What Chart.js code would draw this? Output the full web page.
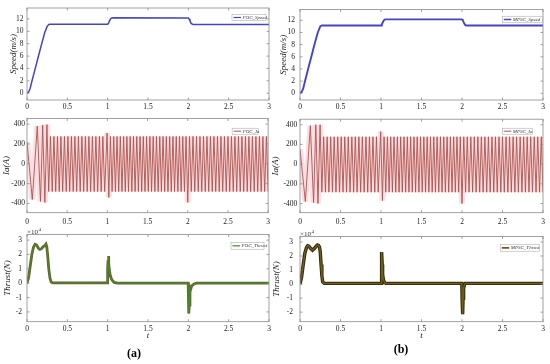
<!DOCTYPE html>
<html>
<head>
    <title>FOC vs MPSC - Speed, Ia and Thrust</title>
    <style>
        body {
            margin: 0;
            background-color: #fff;
        }

        #fig {
            position: relative;
            width: 550px;
            height: 364px;
            overflow: hidden;
            font-family: "Liberation Serif", serif;
        }

        canvas {
            position: absolute;
        }

        .cap {
            position: absolute;
            font-weight: bold;
            font-size: 12px;
            transform: translate(-50%, -50%);
        }
    </style>
</head>
<body>
    <div id="fig">
        <canvas id="spA" width="275" height="112" style="left:0;top:0"></canvas>
        <canvas id="iaA" width="275" height="114" style="left:0;top:112px"></canvas>
        <canvas id="thA" width="275" height="117" style="left:0;top:225px"></canvas>
        <canvas id="spB" width="282" height="112" style="left:268px;top:0"></canvas>
        <canvas id="iaB" width="282" height="114" style="left:268px;top:112px"></canvas>
        <canvas id="thB" width="282" height="117" style="left:268px;top:225px"></canvas>
        <div class="cap" style="left:134px;top:353px">(a)</div>
        <div class="cap" style="left:401px;top:349px">(b)</div>
    </div>

    <script src="https://cdn.jsdelivr.net/npm/chart.js"></script>
    <script>
        // time axis ticks (s)
        const tTicks = [0, 0.5, 1, 1.5, 2, 2.5, 3];
        const speedTicks = [0, 2, 4, 6, 8, 10, 12];
        const iaTicks = [-400, -200, 0, 200, 400];
        const thrustTicks = [-2, -1, 0, 1, 2, 3];

        // speed (m/s)
        const spdTime = [0, 0.02, 0.04, 0.06, 0.1, 0.14, 0.18, 0.22, 0.25, 0.27, 0.29, 1.0, 1.01, 1.02, 1.035, 1.05, 1.07, 2.0, 2.01, 2.02, 2.035, 2.05, 2.07, 3.0];
        const spdFOC = [0, 0.2, 0.8, 1.9, 3.9, 5.9, 7.9, 9.8, 10.8, 11.1, 11.15, 11.15, 11.3, 11.6, 12.0, 12.15, 12.2, 12.15, 12.0, 11.7, 11.3, 11.15, 11.1, 11.1];
        const spdMPSC = [0, 0.2, 0.8, 1.9, 4.0, 6.0, 8.1, 10.0, 11.0, 11.15, 11.15, 11.15, 11.3, 11.6, 12.0, 12.15, 12.15, 12.15, 12.0, 11.7, 11.3, 11.15, 11.15, 11.15];

        // phase current Ia (A): peaks and troughs of the waveform
        const iaTime = [
            0, 0.066, 0.128, 0.168, 0.195, 0.222, 0.248,
            0.270, 0.292, 0.314, 0.335, 0.357, 0.379, 0.401, 0.422, 0.444, 0.466, 0.488, 0.509, 0.531, 0.553, 0.575, 0.596, 0.618,
            0.640, 0.662, 0.683, 0.705, 0.727, 0.749, 0.770, 0.792, 0.814, 0.836, 0.857, 0.879, 0.901, 0.923, 0.944, 0.966,
            0.996, 1.018,
            1.038, 1.059, 1.079, 1.100, 1.120, 1.141, 1.161, 1.182, 1.202, 1.223, 1.243, 1.263, 1.284, 1.304, 1.325, 1.345,
            1.366, 1.386, 1.407, 1.427, 1.447, 1.468, 1.488, 1.509, 1.529, 1.550, 1.570, 1.591, 1.611, 1.632, 1.652, 1.672,
            1.693, 1.713, 1.734, 1.754, 1.775, 1.795, 1.816, 1.836, 1.857, 1.877, 1.897, 1.918, 1.938, 1.959, 1.979, 2.000,
            2.022, 2.044, 2.065, 2.087, 2.109, 2.131, 2.152, 2.174, 2.196, 2.218, 2.239, 2.261, 2.283, 2.305, 2.326, 2.348,
            2.370, 2.392, 2.413, 2.435, 2.457, 2.479, 2.500, 2.522, 2.544, 2.566, 2.587, 2.609, 2.631, 2.653, 2.674, 2.696,
            2.718, 2.740, 2.761, 2.783, 2.805, 2.827, 2.848, 2.870, 2.892, 2.914, 2.935, 2.957, 2.979, 3.000
        ];
        const iaFOC = [
            220, -360, 380, -380, 390, -390, 395,
            -280, 275, -280, 275, -280, 275, -280, 275, -280, 275, -280, 275, -280, 275, -280, 275, -280,
            275, -280, 275, -280, 275, -280, 275, -280, 275, -280, 275, -280, 275, -280, 275, -280,
            310, -340,
            275, -280, 275, -280, 275, -280, 275, -280, 275, -280, 275, -280, 275, -280, 275, -280,
            275, -280, 275, -280, 275, -280, 275, -280, 275, -280, 275, -280, 275, -280, 275, -280,
            275, -280, 275, -280, 275, -280, 275, -280, 275, -280, 275, -280, 275, -280, 275, -390,
            275, -280, 275, -280, 275, -280, 275, -280, 275, -280, 275, -280, 275, -280, 275, -280,
            275, -280, 275, -280, 275, -280, 275, -280, 275, -280, 275, -280, 275, -280, 275, -280,
            275, -280, 275, -280, 275, -280, 275, -280, 275, -280, 275, -280, 275, -280
        ];
        const iaMPSC = [
            150, -380, 390, -390, 400, -400, 400,
            -285, 278, -285, 278, -285, 278, -285, 278, -285, 278, -285, 278, -285, 278, -285, 278, -285,
            278, -285, 278, -285, 278, -285, 278, -285, 278, -285, 278, -285, 278, -285, 278, -285,
            330, -370,
            278, -285, 278, -285, 278, -285, 278, -285, 278, -285, 278, -285, 278, -285, 278, -285,
            278, -285, 278, -285, 278, -285, 278, -285, 278, -285, 278, -285, 278, -285, 278, -285,
            278, -285, 278, -285, 278, -285, 278, -285, 278, -285, 278, -285, 278, -285, 278, -400,
            278, -285, 278, -285, 278, -285, 278, -285, 278, -285, 278, -285, 278, -285, 278, -285,
            278, -285, 278, -285, 278, -285, 278, -285, 278, -285, 278, -285, 278, -285, 278, -285,
            278, -285, 278, -285, 278, -285, 278, -285, 278, -285, 278, -285, 278, -285
        ];

        // thrust (x10^4 N)
        const thrFOCTime = [0, 0.02, 0.04, 0.06, 0.08, 0.1, 0.12, 0.14, 0.16, 0.18, 0.2, 0.22, 0.235, 0.245, 0.255, 0.27, 0.285, 0.3, 0.32, 0.995,
            1.0, 1.005, 1.01, 1.015, 1.02, 1.03, 1.05, 1.08, 1.12, 1.998, 2.003, 2.008, 2.012, 2.02, 2.04, 2.07, 2.1, 3.0];
        const thrFOC = [0, 0.4, 1.2, 2.0, 2.5, 2.7, 2.65, 2.45, 2.35, 2.4, 2.55, 2.6, 2.72, 2.55, 2.0, 1.0, 0.35, 0.08, 0.02, 0.02,
            1.0, 1.6, 1.9, 1.3, 1.0, 0.6, 0.25, 0.05, 0.0, 0.0, -1.0, -2.1, -1.5, -0.6, -0.2, -0.05, 0.0, 0.0];
        const thrMPSCTime = [0, 0.02, 0.04, 0.06, 0.08, 0.095, 0.11, 0.13, 0.155, 0.18, 0.2, 0.215, 0.228, 0.24, 0.25, 0.26, 0.27, 0.28, 0.3, 1.0,
            1.005, 1.01, 1.015, 1.02, 1.03, 1.045, 1.06, 1.998, 2.002, 2.008, 2.013, 2.02, 2.03, 2.04, 3.0];
        const thrMPSC = [0, 0.5, 1.4, 2.2, 2.6, 2.73, 2.7, 2.55, 2.42, 2.55, 2.7, 2.78, 2.75, 2.65, 2.3, 1.4, 0.6, 0.15, 0.05, 0.05,
            1.2, 2.28, 1.4, 0.7, 0.3, 0.1, 0.05, 0.05, -1.2, -2.15, -1.0, -0.3, -0.05, 0.05, 0.05];

        const serif = '"Liberation Serif", "Times New Roman", serif';
        const tickFont = { family: serif, size: 7.5 };

        function pts(ts, vs) {
            return ts.map((t, i) => ({ x: t, y: vs[i] }));
        }

        // box, inward ticks, small legend and exponent label
        Chart.register({
            id: 'fig',
            afterDraw(chart, args, opt) {
                const { ctx, chartArea: a, scales } = chart;
                ctx.save();
                ctx.strokeStyle = '#8a8a8a';
                ctx.lineWidth = 0.8;
                ctx.strokeRect(a.left, a.top, a.right - a.left, a.bottom - a.top);
                ctx.beginPath();
                scales.x.ticks.forEach(t => {
                    const p = scales.x.getPixelForValue(t.value);
                    ctx.moveTo(p, a.bottom); ctx.lineTo(p, a.bottom - 2.5);
                    ctx.moveTo(p, a.top); ctx.lineTo(p, a.top + 2.5);
                });
                scales.y.ticks.forEach(t => {
                    const p = scales.y.getPixelForValue(t.value);
                    ctx.moveTo(a.left, p); ctx.lineTo(a.left + 2.5, p);
                    ctx.moveTo(a.right, p); ctx.lineTo(a.right - 2.5, p);
                });
                ctx.stroke();

                const L = opt.box;
                if (L) {
                    const bx = a.right - L.right - L.w, by = a.top + L.top;
                    ctx.fillStyle = '#fff';
                    ctx.fillRect(bx, by, L.w, L.h);
                    ctx.strokeStyle = '#a0a0a0';
                    ctx.lineWidth = 0.5;
                    ctx.strokeRect(bx, by, L.w, L.h);
                    const ds = chart.data.datasets[0];
                    ctx.strokeStyle = ds.borderColor;
                    ctx.lineWidth = L.lw;
                    ctx.beginPath();
                    ctx.moveTo(bx + 1.5, by + L.h / 2);
                    ctx.lineTo(bx + 9, by + L.h / 2);
                    ctx.stroke();
                    ctx.fillStyle = '#333';
                    ctx.font = 'italic 5px ' + serif;
                    ctx.textBaseline = 'middle';
                    ctx.fillText(ds.label, bx + 10.5, by + L.h / 2 + 0.3);
                }
                if (opt.expo) {
                    ctx.fillStyle = '#333';
                    ctx.textBaseline = 'alphabetic';
                    ctx.font = '7px ' + serif;
                    ctx.fillText('×10', a.left, a.top - 1);
                    const w = ctx.measureText('×10').width;
                    ctx.font = '5px ' + serif;
                    ctx.fillText('4', a.left + w + 0.5, a.top - 4);
                }
                ctx.restore();
            }
        });

        function panel(id, o) {
            new Chart(document.getElementById(id), {
                type: 'line',
                data: { datasets: o.sets },
                options: {
                    responsive: false,
                    animation: false,
                    layout: { padding: { top: o.padTop, right: o.padRight, left: 0, bottom: 0 } },
                    elements: { point: { radius: 0 }, line: { tension: 0 } },
                    plugins: {
                        legend: { display: false },
                        tooltip: { enabled: false },
                        fig: { box: o.box, expo: o.expo }
                    },
                    scales: {
                        x: {
                            type: 'linear', min: 0, max: 3,
                            afterFit: s => { s.height = o.xH; },
                            afterBuildTicks: s => { s.ticks = tTicks.map(v => ({ value: v })); },
                            grid: { display: false, drawTicks: false },
                            border: { display: false },
                            ticks: { padding: o.xPad, font: tickFont, color: '#222', maxRotation: 0, callback: v => String(v) },
                            title: {
                                display: !!o.xTitle, text: 't',
                                font: { family: serif, size: 9, style: 'italic' },
                                color: '#222', padding: { top: 0, bottom: 0.5 }
                            }
                        },
                        y: {
                            type: 'linear', min: o.yMin, max: o.yMax,
                            afterFit: s => { s.width = o.yW; },
                            afterBuildTicks: s => { s.ticks = o.yTicks.map(v => ({ value: v })); },
                            grid: { display: false, drawTicks: false },
                            border: { display: false },
                            ticks: { padding: o.yPad, font: tickFont, color: '#222', callback: v => String(v) },
                            title: {
                                display: true, text: o.yTitle,
                                font: { family: serif, size: 9, style: 'italic' },
                                color: '#222', padding: { top: o.titlePad, bottom: 0 }
                            }
                        }
                    }
                }
            });
        }

        const speedSet = (label, vs, w) => [{
            label, data: pts(spdTime, vs), borderColor: '#4444c8', borderWidth: w
        }];
        const iaSet = (label, vs) => [
            { label, data: pts(iaTime, vs), borderColor: '#b0524a', borderWidth: 0.9 },
            { label: '', data: pts(iaTime, vs), borderColor: 'rgba(250,200,210,0.6)', borderWidth: 6 }
        ];

        // left column: FOC
        panel('spA', {
            sets: speedSet('FOC_Speed', spdFOC, 1.5),
            padTop: 5, padRight: 6, yW: 27, xH: 12, xPad: 3, yPad: 3.5, titlePad: 8,
            yMin: -1.1, yMax: 13.77, yTicks: speedTicks, yTitle: 'Speed(m/s)',
            box: { right: 3, top: 6.7, w: 34, h: 5.6, lw: 1.2 }
        });
        panel('iaA', {
            sets: iaSet('FOC_Ia', iaFOC),
            padTop: 5, padRight: 6, yW: 27, xH: 13.3, xPad: 5, yPad: 2, titlePad: 1,
            yMin: -493, yMax: 456, yTicks: iaTicks, yTitle: 'Ia(A)',
            box: { right: 10, top: 9.7, w: 26, h: 6, lw: 1 }
        });
        panel('thA', {
            sets: [
                { label: 'FOC_Thrust', data: pts(thrFOCTime, thrFOC), borderColor: '#3f8a2a', borderWidth: 1.4 },
                { label: '', data: pts(thrFOCTime, thrFOC), borderColor: '#7a5530', borderWidth: 2.8 }
            ],
            padTop: 7, padRight: 6, yW: 27, xH: 20.3, xPad: 3, yPad: 5, titlePad: 2, xTitle: true,
            yMin: -2.68, yMax: 3.39, yTicks: thrustTicks, yTitle: 'Thrust(N)', expo: true,
            box: { right: 5, top: 8, w: 33, h: 6.7, lw: 1.2 }
        });

        // right column: MPSC
        panel('spB', {
            sets: speedSet('MPSC_Speed', spdMPSC, 1.9),
            padTop: 5, padRight: 7, yW: 32, xH: 12, xPad: 3, yPad: 5, titlePad: 10.6,
            yMin: -1.1, yMax: 13.77, yTicks: speedTicks, yTitle: 'Speed(m/s)',
            box: { right: 0.7, top: 6.7, w: 40, h: 6.6, lw: 1.5 }
        });
        panel('iaB', {
            sets: iaSet('MPSC_Ia', iaMPSC),
            padTop: 5, padRight: 7, yW: 32, xH: 13.3, xPad: 5, yPad: 2.7, titlePad: 2,
            yMin: -493, yMax: 456, yTicks: iaTicks, yTitle: 'Ia(A)',
            box: { right: 10.7, top: 9, w: 30, h: 6, lw: 1 }
        });
        panel('thB', {
            sets: [
                { label: 'MPSC_Thrust', data: pts(thrMPSCTime, thrMPSC), borderColor: '#6e5e16', borderWidth: 1.5 },
                { label: '', data: pts(thrMPSCTime, thrMPSC), borderColor: '#2e2810', borderWidth: 3.4 }
            ],
            padTop: 7, padRight: 7, yW: 32, xH: 20.3, xPad: 3, yPad: 7, titlePad: 3, xTitle: true,
            yMin: -2.68, yMax: 3.39, yTicks: thrustTicks, yTitle: 'Thrust(N)', expo: true,
            box: { right: 3.7, top: 8, w: 39, h: 6.7, lw: 1.8 }
        });
    </script>
</body>
</html>
